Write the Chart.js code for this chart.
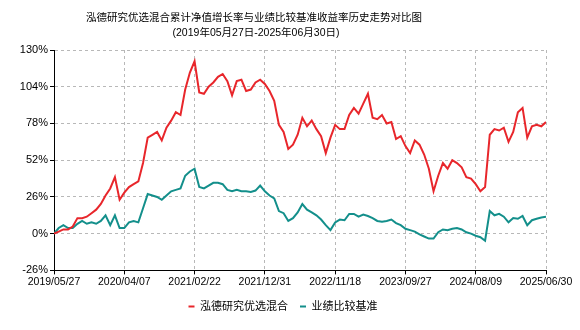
<!DOCTYPE html>
<html>
<head>
<meta charset="utf-8">
<script src="https://cdn.jsdelivr.net/npm/chart.js@4.4.1/dist/chart.umd.min.js"></script>
<style>
  html, body { margin: 0; padding: 0; background: #fff; }
  #wrap { width: 580px; height: 330px; }
</style>
</head>
<body>
<div id="wrap"><canvas id="lineChart"></canvas></div>
<script>
// 横轴刻度日期
const tickLabels = ["2019/05/27", "2020/04/07", "2021/02/22", "2021/12/31",
  "2022/11/18", "2023/09/27", "2024/08/09", "2025/06/30"];
const stepPerTick = 15;

// 累计净值增长率 (%)
const fundValues = [
  0, 1.5, 3, 3, 5, 11, 11, 12, 14.5, 17,
  21, 27, 32, 40, 24, 29, 33, 35, 37, 50,
  68, 70, 72, 66, 75, 80, 86, 84, 102, 114,
  122, 100, 99, 104, 107, 111, 113, 108, 98, 108,
  109, 101, 102, 107, 109, 106, 101, 94, 77, 72,
  60, 63, 70, 82, 76, 80, 74, 69, 57, 68,
  77, 74, 74, 84, 89, 85, 92, 99, 82, 81,
  84, 78, 79, 67, 69, 62, 57, 66, 63, 56,
  46, 30, 41, 50, 46, 52, 50, 47, 40, 39,
  35, 30, 33, 70, 74, 73, 75, 65, 72, 86,
  89, 68, 76, 77, 76, 79
];

// 业绩比较基准收益率 (%)
const benchValues = [
  0, 4, 6, 4, 4, 7, 9, 7, 8, 7,
  9, 13, 6, 13, 4, 4, 8, 9, 8, 18,
  28, 27, 26, 24, 27, 30, 31, 32, 41, 44,
  46, 33, 32, 34, 36, 36, 35, 31, 30, 31,
  30, 30, 29.5, 30.5, 34, 30, 27, 25, 16, 14.5,
  9, 11, 15, 21, 17, 15, 13, 10, 6, 2.5,
  8, 10, 9.5, 14, 14, 12, 13.5, 12.5, 11, 9,
  8.5, 9, 10, 7.5, 6, 3.5, 2.5, 1.5, -0.5, -2,
  -3.5, -3.5, 1, 3, 2.5, 3.5, 4, 3, 1, 0,
  -1.5, -2.5, -5, 16, 13, 14, 12, 8, 11, 10.5,
  12.5, 6, 9.5, 10.5, 11.5, 12
];

const yTicks = [-26, 0, 26, 52, 78, 104, 130];

const titleText = "泓德研究优选混合累计净值增长率与业绩比较基准收益率历史走势对比图";
const subtitleText = "(2019年05月27日-2025年06月30日)";

const toPoints = arr => arr.map((v, i) => ({ x: i, y: v }));
const baseFont = "'Liberation Sans', 'Noto Sans CJK SC', sans-serif";

// 标题画在图的上方(居中于 x=254)
const titlePlugin = {
  id: "titleText",
  afterDraw: chart => {
    const ctx = chart.ctx;
    ctx.save();
    ctx.fillStyle = "#000";
    ctx.textAlign = "center";
    ctx.textBaseline = "middle";
    ctx.font = "10.5px " + baseFont;
    ctx.fillText(titleText, 254, 18);
    ctx.fillText(subtitleText, 256, 33);
    ctx.restore();
  },
};

new Chart(document.getElementById("lineChart"), {
  type: "line",
  data: {
    datasets: [
      {
        label: "泓德研究优选混合",
        data: toPoints(fundValues),
        borderColor: "#e8262b",
        backgroundColor: "#e8262b",
        borderWidth: 2,
        pointRadius: 0,
        tension: 0,
      },
      {
        label: "业绩比较基准",
        data: toPoints(benchValues),
        borderColor: "#138f8b",
        backgroundColor: "#138f8b",
        borderWidth: 2,
        pointRadius: 0,
        tension: 0,
      },
    ],
  },
  options: {
    responsive: true,
    maintainAspectRatio: false,
    animation: false,
    layout: { padding: { left: 20, right: 34, top: 50, bottom: 8 } },
    plugins: {
      title: { display: false },
      legend: {
        position: "bottom",
        labels: {
          usePointStyle: true,
          pointStyle: "line",
          pointStyleWidth: 6,
          boxWidth: 6,
          color: "#000",
          font: { family: baseFont, size: 11 },
          padding: 12,
        },
      },
      tooltip: { enabled: false },
    },
    scales: {
      x: {
        type: "linear",
        min: 0,
        max: (tickLabels.length - 1) * stepPerTick,
        afterBuildTicks: axis => {
          axis.ticks = tickLabels.map((_, i) => ({ value: i * stepPerTick }));
        },
        ticks: {
          autoSkip: false,
          maxRotation: 0,
          color: "#000",
          font: { family: baseFont, size: 10.5 },
          padding: 1,
          callback: v => tickLabels[Math.round(v / stepPerTick)],
        },
        grid: {
          color: "#b8b8b8",
          tickColor: "#000",
          tickLength: 4,
        },
        border: { display: true, color: "#000", width: 1, dash: [3, 3] },
      },
      y: {
        min: -26,
        max: 130,
        afterBuildTicks: axis => {
          axis.ticks = yTicks.map(v => ({ value: v }));
        },
        afterFit: axis => { axis.width = 34; },
        ticks: {
          color: "#000",
          font: { family: baseFont, size: 11 },
          padding: 2,
          callback: v => v + "%",
        },
        grid: {
          color: "#b8b8b8",
          tickColor: "#000",
          tickLength: 4,
        },
        border: { display: true, color: "#000", width: 1, dash: [3, 3] },
      },
    },
  },
  plugins: [titlePlugin],
});
</script>
</body>
</html>
